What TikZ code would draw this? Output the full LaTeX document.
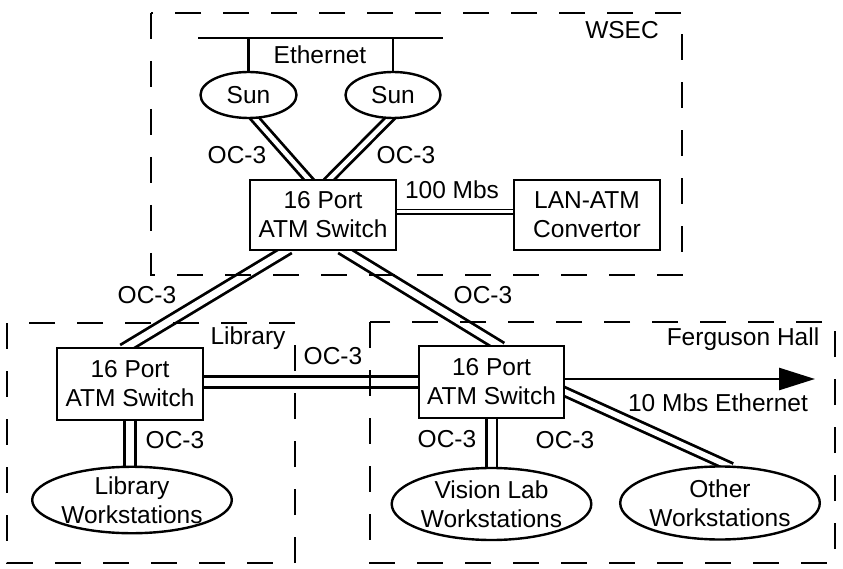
\documentclass[tikz,border=0pt]{standalone}
\usepackage{fontspec}
\setmainfont{Liberation Sans}
\usetikzlibrary{arrows.meta,calc,backgrounds,shapes.geometric}
\begin{document}
\begin{tikzpicture}[x=1pt,y=-1pt,
  every node/.style={font=\fontsize{24.5}{29}\selectfont, inner sep=0pt},
  box/.style={draw, line width=2.7pt, fill=white, minimum width=146pt, minimum height=70pt, align=center},
  oval/.style={draw, ellipse, line width=2.4pt, fill=white, align=center},
  zone/.style={line width=2.6pt, dash pattern=on 26pt off 22pt},
  link/.style={double, line width=2.8pt, double distance=#1, shorten <=-5pt, shorten >=-5pt},
  bus/.style={line width=2.3pt}]
\useasboundingbox (0,0) rectangle (843,569);

% nodes
\node[box] (sw1) at (323,215) {16 Port\\ATM Switch};
\node[box] (lan) at (587,215) {LAN-ATM\\Convertor};
\node[oval, minimum width=96pt, minimum height=46pt] (sun1) at (248.5,95) {Sun};
\node[oval, minimum width=95pt, minimum height=46pt] (sun2) at (393,95) {Sun};
\node[box, minimum height=72pt] (sw2) at (130,384) {16 Port\\ATM Switch};
\node[box, minimum width=145pt, minimum height=72pt] (sw3) at (491.5,382) {16 Port\\ATM Switch};
\node[oval, minimum width=196pt, minimum height=66pt] (libws) at (132,500) {Library\\Workstations};
\node[oval, minimum width=193pt, minimum height=72pt] (vis) at (491.5,504) {Vision Lab\\Workstations};
\node[oval, minimum width=195pt, minimum height=73pt] (oth) at (720,503) {Other\\Workstations};

% labels
\node (lwsec) at (622,30) {WSEC};
\node (leth) at (320,55) {Ethernet};
\node (loc1) at (237,155) {OC-3};
\node (loc2) at (406,155) {OC-3};
\node (l100) at (452,190) {100 Mbs};
\node (loc3) at (147,295) {OC-3};
\node (loc4) at (483,295) {OC-3};
\node (llib) at (248,338) {Library};
\node (lfer) at (743,339) {Ferguson Hall};
\node (loc5) at (333,356) {OC-3};
\node (l10) at (718,403) {10 Mbs Ethernet};
\node (loc6) at (175,440) {OC-3};
\node (loc7) at (447,439) {OC-3};
\node (loc8) at (565,440) {OC-3};

\coordinate (ethL) at (198,38);
\coordinate (ethR) at (443,38);
\coordinate (arrend) at (815,379);

\begin{pgfonlayer}{background}
  \fill[white] (0,0) rectangle (843,569);
  % ethernet bus
  \draw[bus] (ethL) -- (ethR);
  \draw[bus] (sun1.north) -- (sun1.north |- ethL);
  \draw[bus] (sun2.north) -- (sun2.north |- ethL);
  % links
  \draw[link=4.5pt] ($(sun1.south)+(7,0)$) -- ($(sw1.north)+(-15,0)$);
  \draw[link=4.5pt] ($(sun2.south)+(-4,0)$) -- ($(sw1.north)+(7,0)$);
  \draw[double, line width=1.8pt, double distance=3pt] ($(sw1.east)+(0,-3)$) -- ($(lan.west)+(0,-3)$);
  \draw[link=7pt] ($(sw1.south)+(-38,0)$) -- ($(sw2.north)+(-3,0)$);
  \draw[link=7pt] ($(sw1.south)+(22,0)$) -- ($(sw3.north)+(6,0)$);
  \draw[link=7.5pt] ($(sw2.east)+(0,-2)$) -- (sw3.west);
  \draw[link=8pt] (sw2.south) -- (sw2.south |- libws.north);
  \draw[link=8pt] (sw3.south) -- (vis.north);
  \draw[link=5.5pt] ($(sw3.east)+(0,10)$) -- ($(oth.north)+(7,0)$);
  \draw[line width=2.7pt, -{Triangle[length=36pt,width=22pt]}] ($(sw3.east)+(0,-3)$) -- (arrend);
  % zones
  \draw[zone] (151,13) rectangle (682,275);
  \draw[zone] (7,323) rectangle (295,563);
  \draw[zone] (370,322) rectangle (835,563);
\end{pgfonlayer}
\end{tikzpicture}
\end{document}
